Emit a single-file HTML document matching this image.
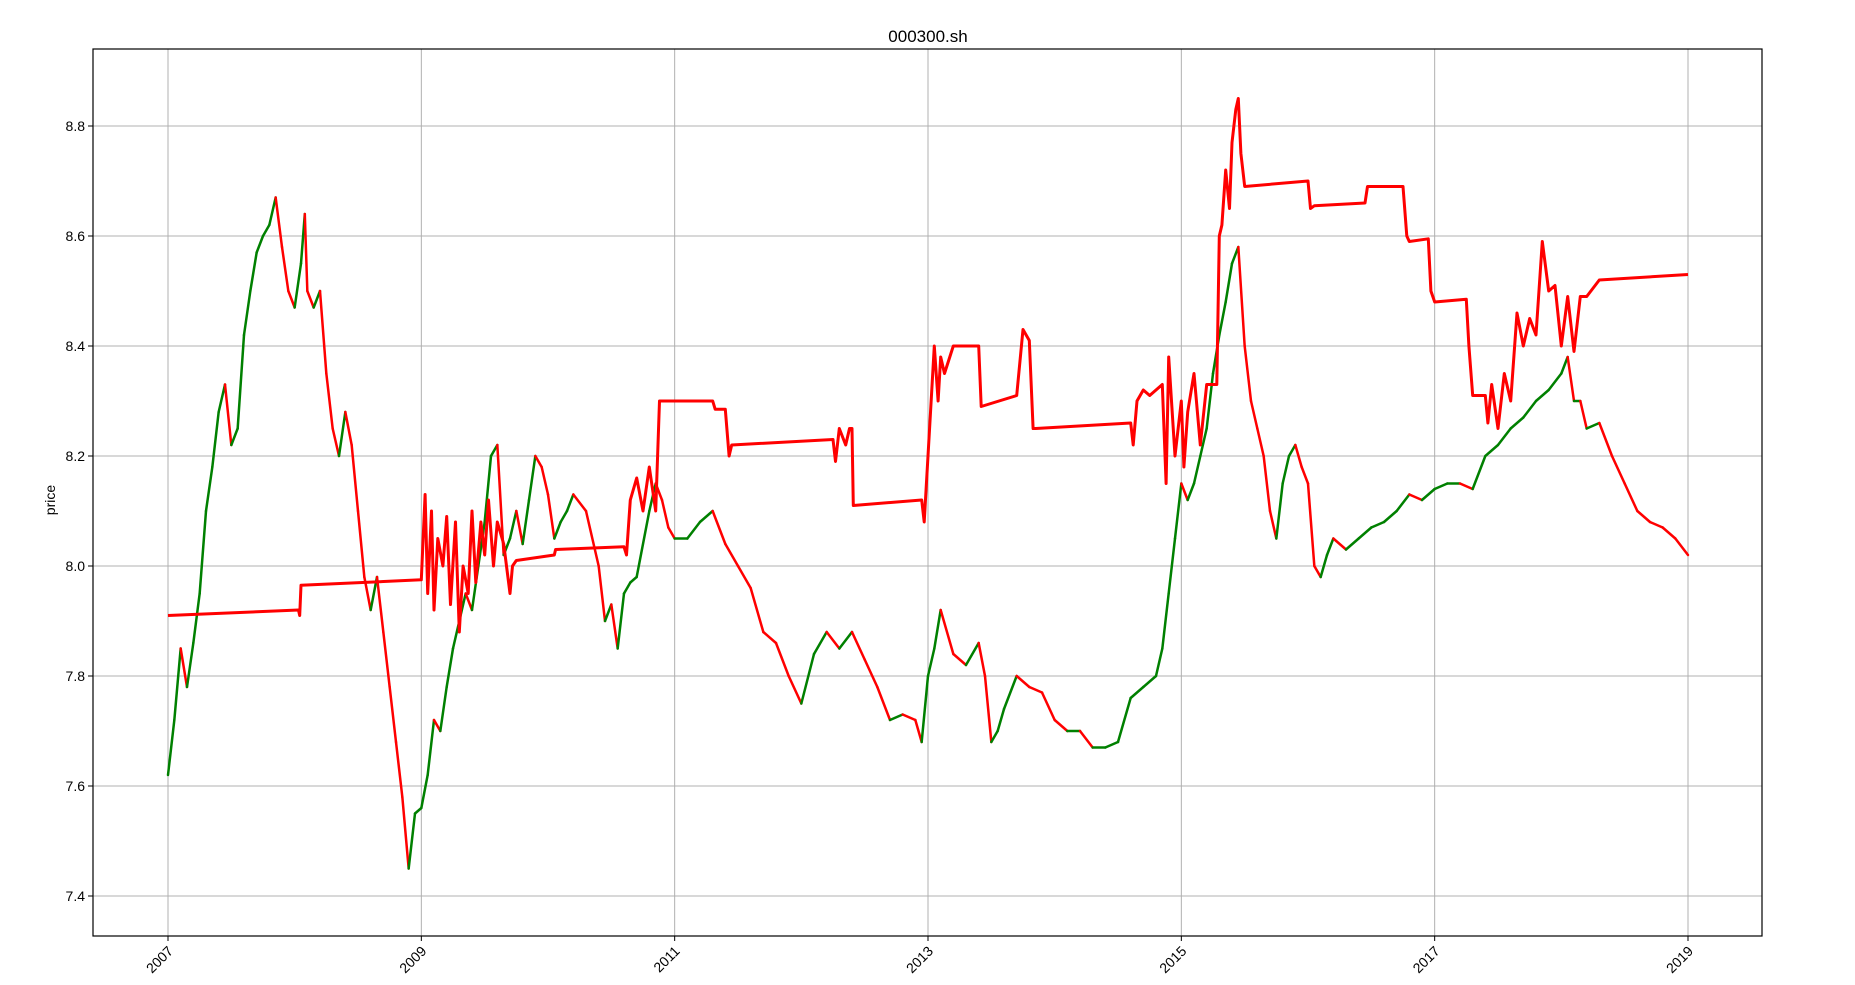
<!DOCTYPE html>
<html><head><meta charset="utf-8"><style>
body{margin:0;background:#fff;}
svg{display:block;font-family:"Liberation Sans","DejaVu Sans",sans-serif;}
</style></head><body>
<svg id="chart" width="1855" height="985" viewBox="0 0 1855 985" xmlns="http://www.w3.org/2000/svg">
<defs><clipPath id="plotclip"><rect x="93" y="49" width="1669" height="887"/></clipPath></defs>
<rect width="1855" height="985" fill="#fff"/>
<text x="928" y="42" font-size="17" text-anchor="middle">000300.sh</text>
<text x="55" y="500" font-size="14" text-anchor="middle" transform="rotate(-90 55 500)">price</text>
<g id="grid"></g><g id="series" clip-path="url(#plotclip)"></g><g id="axes"></g>
</svg>
<script>
const yTicks=[7.4,7.6,7.8,8.0,8.2,8.4,8.6,8.8];
const yTickLabels=["7.4","7.6","7.8","8.0","8.2","8.4","8.6","8.8"];
const xTicks=[2007,2009,2011,2013,2015,2017,2019];
const xTickLabels=["2007","2009","2011","2013","2015","2017","2019"];
const priceDates=[2007.0,2007.05,2007.1,2007.15,2007.2,2007.25,2007.3,2007.35,2007.4,2007.45,2007.5,2007.55,2007.6,2007.65,2007.7,2007.75,2007.8,2007.85,2007.9,2007.95,2008.0,2008.05,2008.08,2008.1,2008.15,2008.2,2008.25,2008.3,2008.35,2008.4,2008.45,2008.5,2008.55,2008.6,2008.65,2008.7,2008.75,2008.8,2008.85,2008.9,2008.95,2009.0,2009.05,2009.1,2009.15,2009.2,2009.25,2009.3,2009.35,2009.4,2009.45,2009.5,2009.55,2009.6,2009.65,2009.7,2009.75,2009.8,2009.85,2009.9,2009.95,2010.0,2010.05,2010.1,2010.15,2010.2,2010.3,2010.4,2010.45,2010.5,2010.55,2010.6,2010.65,2010.7,2010.8,2010.85,2010.9,2010.95,2011.0,2011.1,2011.2,2011.3,2011.4,2011.5,2011.6,2011.7,2011.8,2011.9,2012.0,2012.1,2012.2,2012.3,2012.4,2012.5,2012.6,2012.7,2012.8,2012.9,2012.95,2013.0,2013.05,2013.1,2013.2,2013.3,2013.4,2013.45,2013.5,2013.55,2013.6,2013.7,2013.8,2013.9,2014.0,2014.1,2014.2,2014.3,2014.4,2014.5,2014.6,2014.7,2014.8,2014.85,2014.9,2014.95,2015.0,2015.05,2015.1,2015.15,2015.2,2015.25,2015.3,2015.35,2015.4,2015.45,2015.5,2015.55,2015.6,2015.65,2015.7,2015.75,2015.8,2015.85,2015.9,2015.95,2016.0,2016.05,2016.1,2016.15,2016.2,2016.3,2016.4,2016.5,2016.6,2016.7,2016.8,2016.9,2017.0,2017.1,2017.2,2017.3,2017.4,2017.5,2017.6,2017.7,2017.8,2017.9,2018.0,2018.05,2018.1,2018.15,2018.2,2018.3,2018.4,2018.5,2018.6,2018.7,2018.8,2018.9,2019.0];
const priceValues=[7.62,7.72,7.85,7.78,7.86,7.95,8.1,8.18,8.28,8.33,8.22,8.25,8.42,8.5,8.57,8.6,8.62,8.67,8.58,8.5,8.47,8.55,8.64,8.5,8.47,8.5,8.35,8.25,8.2,8.28,8.22,8.1,7.98,7.92,7.98,7.88,7.78,7.68,7.58,7.45,7.55,7.56,7.62,7.72,7.7,7.78,7.85,7.9,7.95,7.92,8.0,8.08,8.2,8.22,8.02,8.05,8.1,8.04,8.12,8.2,8.18,8.13,8.05,8.08,8.1,8.13,8.1,8.0,7.9,7.93,7.85,7.95,7.97,7.98,8.1,8.15,8.12,8.07,8.05,8.05,8.08,8.1,8.04,8.0,7.96,7.88,7.86,7.8,7.75,7.84,7.88,7.85,7.88,7.83,7.78,7.72,7.73,7.72,7.68,7.8,7.85,7.92,7.84,7.82,7.86,7.8,7.68,7.7,7.74,7.8,7.78,7.77,7.72,7.7,7.7,7.67,7.67,7.68,7.76,7.78,7.8,7.85,7.95,8.05,8.15,8.12,8.15,8.2,8.25,8.35,8.42,8.48,8.55,8.58,8.4,8.3,8.25,8.2,8.1,8.05,8.15,8.2,8.22,8.18,8.15,8.0,7.98,8.02,8.05,8.03,8.05,8.07,8.08,8.1,8.13,8.12,8.14,8.15,8.15,8.14,8.2,8.22,8.25,8.27,8.3,8.32,8.35,8.38,8.3,8.3,8.25,8.26,8.2,8.15,8.1,8.08,8.07,8.05,8.02];
const stratDates=[2007.0,2008.03,2008.04,2008.05,2009.0,2009.03,2009.05,2009.08,2009.1,2009.13,2009.17,2009.2,2009.23,2009.27,2009.3,2009.33,2009.37,2009.4,2009.43,2009.47,2009.5,2009.53,2009.57,2009.6,2009.65,2009.7,2009.72,2009.75,2010.05,2010.06,2010.6,2010.62,2010.65,2010.7,2010.75,2010.8,2010.85,2010.88,2010.9,2011.3,2011.32,2011.4,2011.43,2011.45,2012.25,2012.27,2012.3,2012.35,2012.38,2012.4,2012.41,2012.95,2012.97,2013.0,2013.05,2013.08,2013.1,2013.13,2013.2,2013.4,2013.42,2013.7,2013.75,2013.8,2013.83,2013.85,2014.6,2014.62,2014.65,2014.7,2014.75,2014.85,2014.88,2014.9,2014.95,2015.0,2015.02,2015.05,2015.1,2015.15,2015.2,2015.22,2015.28,2015.3,2015.32,2015.35,2015.38,2015.4,2015.43,2015.45,2015.47,2015.5,2016.0,2016.02,2016.05,2016.45,2016.47,2016.75,2016.78,2016.8,2016.95,2016.97,2017.0,2017.25,2017.27,2017.3,2017.4,2017.42,2017.45,2017.5,2017.55,2017.6,2017.65,2017.7,2017.75,2017.8,2017.85,2017.9,2017.95,2018.0,2018.05,2018.1,2018.15,2018.2,2018.3,2019.0];
const stratValues=[7.91,7.92,7.91,7.965,7.975,8.13,7.95,8.1,7.92,8.05,8.0,8.09,7.93,8.08,7.88,8.0,7.95,8.1,7.97,8.08,8.02,8.12,8.0,8.08,8.04,7.95,8.0,8.01,8.02,8.03,8.035,8.02,8.12,8.16,8.1,8.18,8.1,8.3,8.3,8.3,8.285,8.285,8.2,8.22,8.23,8.19,8.25,8.22,8.25,8.25,8.11,8.12,8.08,8.2,8.4,8.3,8.38,8.35,8.4,8.4,8.29,8.31,8.43,8.41,8.25,8.25,8.26,8.22,8.3,8.32,8.31,8.33,8.15,8.38,8.2,8.3,8.18,8.28,8.35,8.22,8.33,8.33,8.33,8.6,8.62,8.72,8.65,8.77,8.83,8.85,8.75,8.69,8.7,8.65,8.655,8.66,8.69,8.69,8.6,8.59,8.595,8.5,8.48,8.485,8.4,8.31,8.31,8.26,8.33,8.25,8.35,8.3,8.46,8.4,8.45,8.42,8.59,8.5,8.51,8.4,8.49,8.39,8.49,8.49,8.52,8.53];
const L=93,R=1762,T=49,B=936;
function xs(d){return 168+(d-2007)*(1688-168)/12;}
function ys(v){return 126+(8.8-v)*550;}
const NS='http://www.w3.org/2000/svg';
function mk(tag,attrs,parent){const e=document.createElementNS(NS,tag);for(const k in attrs)e.setAttribute(k,attrs[k]);parent.appendChild(e);return e;}
const grid=document.getElementById('grid'),series=document.getElementById('series'),axes=document.getElementById('axes');
yTicks.forEach((v,i)=>{
 const g=mk('line',{x1:L,x2:R,y1:ys(v),y2:ys(v),stroke:'#b0b0b0','stroke-width':1},grid);
 
 
 const t=mk('line',{x1:L-5,x2:L,y1:ys(v),y2:ys(v),stroke:'#000'},axes);
 
 
 const tx=mk('text',{x:L-8,y:ys(v)+5,'font-size':14,'text-anchor':'end'},axes);
 tx.textContent=yTickLabels[i];
 
 
});
xTicks.forEach((d,i)=>{
 const g=mk('line',{x1:xs(d),x2:xs(d),y1:T,y2:B,stroke:'#b0b0b0','stroke-width':1},grid);
 
 
 const t=mk('line',{x1:xs(d),x2:xs(d),y1:B,y2:B+5,stroke:'#000'},axes);
 
 
 const x=xs(d)+6,y=B+16;
 const tx=mk('text',{x:x,y:y,'font-size':14,'text-anchor':'end',transform:`rotate(-45 ${x} ${y})`},axes);
 tx.textContent=xTickLabels[i];
 
 
});
const frame=mk('rect',{x:L,y:T,width:R-L,height:B-T,fill:'none',stroke:'#000','stroke-width':1.2},axes);


const pn=Math.min(priceDates.length,priceValues.length);
for(let i=1;i<pn;i++){
 const up=priceValues[i]>=priceValues[i-1];
 const s=mk('line',{x1:xs(priceDates[i-1]),y1:ys(priceValues[i-1]),x2:xs(priceDates[i]),y2:ys(priceValues[i]),stroke:up?'#008000':'#ff0000','stroke-width':2.5,'stroke-linecap':'round'},series);
 
 
}
const n=Math.min(stratDates.length,stratValues.length);
const pts=stratDates.slice(0,n).map((d,i)=>xs(d).toFixed(1)+','+ys(stratValues[i]).toFixed(1)).join(' ');
const pl=mk('polyline',{points:pts,fill:'none',stroke:'#ff0000','stroke-width':3,'stroke-linejoin':'round'},series);


</script>
</body></html>
